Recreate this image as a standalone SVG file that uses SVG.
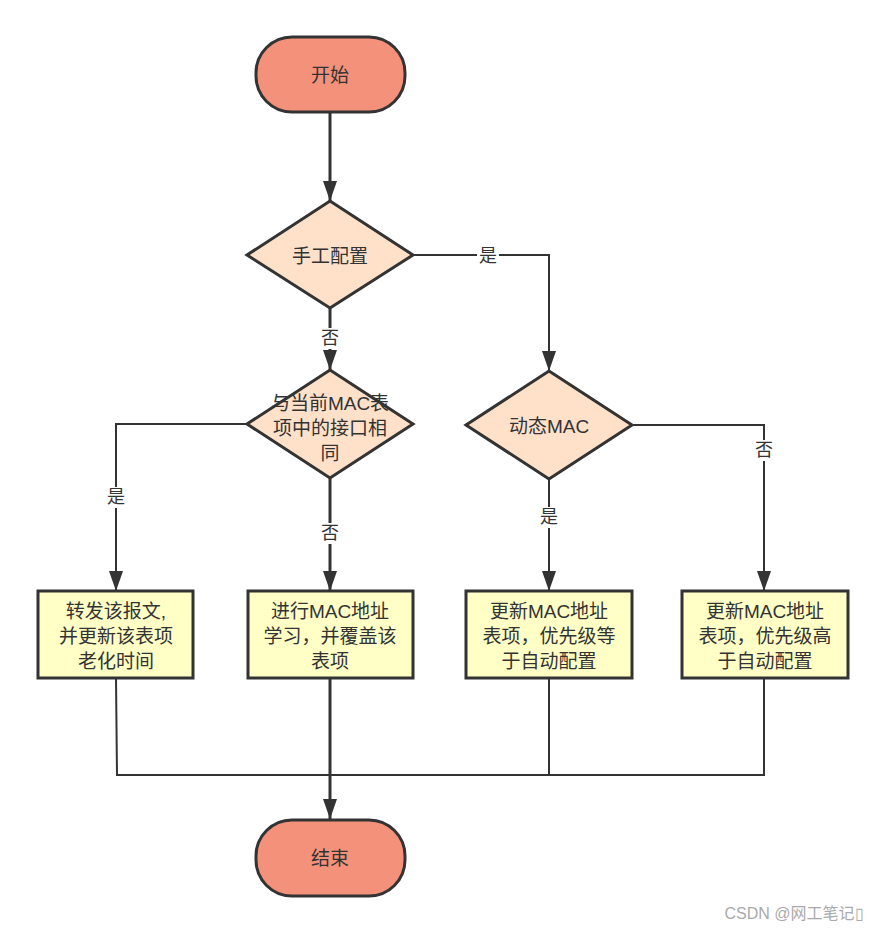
<svg xmlns="http://www.w3.org/2000/svg" width="885" height="932" viewBox="0 0 885 932">
  <style>
    text { font-family: "Liberation Sans", "Noto Sans CJK SC", sans-serif; fill: #333; text-anchor: middle; dominant-baseline: central; }
    .node { font-size: 19px; }
    .box { font-size: 19px; }
    .lbl { font-size: 18px; }
    .terminal { fill: #F4917B; stroke: #333; stroke-width: 3; }
    .decision { fill: #FFE1CA; stroke: #333; stroke-width: 3; }
    .process { fill: #FFFFC6; stroke: #333; stroke-width: 3; }
    .edge { fill: none; stroke: #333; stroke-width: 2; }
    .edge.bold { stroke-width: 3; }
    .lblbg { fill: #fff; }
  </style>
  <defs>
    <marker id="arrowDown" viewBox="0 0 14 20" refX="7" refY="20" markerWidth="14" markerHeight="20" markerUnits="userSpaceOnUse" orient="0">
      <path d="M0,0 L14,0 L7,20 Z" fill="#333"/>
    </marker>
  </defs>
  <rect width="885" height="932" fill="#fff"/>

  <!-- connectors -->
  <g id="connectors">
    <path class="edge bold" d="M330,112 V201" marker-end="url(#arrowDown)"/>
    <path class="edge bold" d="M330,308 V370" marker-end="url(#arrowDown)"/>
    <path class="edge" d="M413,255 H549 V371" marker-end="url(#arrowDown)"/>
    <path class="edge" d="M247,424 H116 V591" marker-end="url(#arrowDown)"/>
    <path class="edge bold" d="M330,478 V591" marker-end="url(#arrowDown)"/>
    <path class="edge" d="M549,479 V591" marker-end="url(#arrowDown)"/>
    <path class="edge" d="M632,425 H764 V591" marker-end="url(#arrowDown)"/>
    <path class="edge" d="M116,678 L117,775 H764 V678"/>
    <path class="edge" d="M549,678 V775"/>
    <path class="edge bold" d="M330,678 V819" marker-end="url(#arrowDown)"/>

    <!-- branch labels -->
    <rect class="lblbg" x="477" y="246" width="22" height="20"/>
    <text class="lbl" x="488" y="256">是</text>
    <rect class="lblbg" x="320" y="328" width="20" height="21"/>
    <text class="lbl" x="330" y="338">否</text>
    <rect class="lblbg" x="106" y="487" width="20" height="21"/>
    <text class="lbl" x="116" y="497">是</text>
    <rect class="lblbg" x="320" y="523" width="20" height="21"/>
    <text class="lbl" x="330" y="533">否</text>
    <rect class="lblbg" x="539" y="507" width="20" height="21"/>
    <text class="lbl" x="549" y="517">是</text>
    <rect class="lblbg" x="754" y="440" width="20" height="21"/>
    <text class="lbl" x="764" y="450">否</text>
  </g>

  <!-- start -->
  <g id="start">
    <rect class="terminal" x="256" y="37" width="149" height="75" rx="36" ry="36"/>
    <text class="node" x="330" y="75">开始</text>
  </g>

  <!-- manual configuration check -->
  <g id="manual">
    <polygon class="decision" points="330,201 413,255 330,308 247,255"/>
    <text class="node" x="330" y="256">手工配置</text>
  </g>

  <!-- same-interface check -->
  <g id="same-port">
    <polygon class="decision" points="330,370 413,424 330,478 247,424"/>
    <text class="node" x="330" y="403">与当前MAC表</text>
    <text class="node" x="330" y="428">项中的接口相</text>
    <text class="node" x="330" y="453">同</text>
  </g>

  <!-- dynamic MAC check -->
  <g id="dynamic">
    <polygon class="decision" points="549,371 632,425 549,479 466,425"/>
    <text class="node" x="549" y="426">动态MAC</text>
  </g>

  <!-- action boxes -->
  <g id="forward">
    <rect class="process" x="38" y="591" width="155" height="87"/>
    <text class="box" x="116" y="611">转发该报文,</text>
    <text class="box" x="116" y="636">并更新该表项</text>
    <text class="box" x="116" y="661">老化时间</text>
  </g>
  <g id="learn">
    <rect class="process" x="248" y="591" width="165" height="87"/>
    <text class="box" x="330" y="611">进行MAC地址</text>
    <text class="box" x="330" y="636">学习，并覆盖该</text>
    <text class="box" x="330" y="661">表项</text>
  </g>
  <g id="update-equal">
    <rect class="process" x="466" y="591" width="166" height="87"/>
    <text class="box" x="549" y="611">更新MAC地址</text>
    <text class="box" x="549" y="636">表项，优先级等</text>
    <text class="box" x="549" y="661">于自动配置</text>
  </g>
  <g id="update-higher">
    <rect class="process" x="682" y="591" width="166" height="87"/>
    <text class="box" x="765" y="611">更新MAC地址</text>
    <text class="box" x="765" y="636">表项，优先级高</text>
    <text class="box" x="765" y="661">于自动配置</text>
  </g>

  <!-- end -->
  <g id="end">
    <rect class="terminal" x="256" y="820" width="149" height="76" rx="36" ry="36"/>
    <text class="node" x="330" y="858">结束</text>
  </g>

  <text x="794" y="913" style="font-size:16px; fill:#aaa;">CSDN @网工笔记▯</text>
</svg>
